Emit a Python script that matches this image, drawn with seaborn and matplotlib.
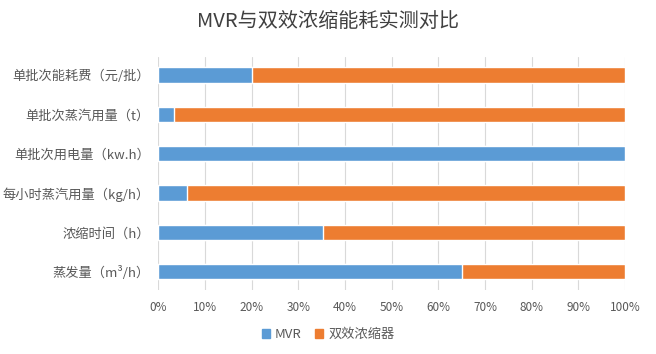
import matplotlib
matplotlib.use("Agg")
import matplotlib.pyplot as plt
import seaborn as sns
import pandas as pd
from matplotlib.patches import Patch
from matplotlib.ticker import FuncFormatter

categories = ["单批次能耗费（元/批）", "单批次蒸汽用量（t）", "单批次用电量（kw.h）",
              "每小时蒸汽用量（kg/h）", "浓缩时间（h）", "蒸发量（m³/h）"]
mvr = [20.0, 3.4, 100.0, 6.2, 35.3, 65.0]
double_eff = [80.0, 96.6, 0.0, 93.8, 64.7, 35.0]
series_names = ["MVR", "双效浓缩器"]
x_ticks = [0, 10, 20, 30, 40, 50, 60, 70, 80, 90, 100]

sns.set_theme(style="white")
plt.rcParams['font.family'] = ['Noto Sans CJK SC', 'DejaVu Sans']

df = pd.DataFrame({"cat": categories, "mvr": mvr,
                   "total": [a + b for a, b in zip(mvr, double_eff)]})

blue = "#5B9BD5"
orange = "#ED7D31"
txt = "#595959"

fig = plt.figure(figsize=(6.56, 3.54), dpi=100)
ax = fig.add_axes([0.241, 0.181, 0.712, 0.658])

sns.barplot(data=df, x="total", y="cat", color=orange, width=0.39, ax=ax,
            saturation=1, orient="h")
sns.barplot(data=df, x="mvr", y="cat", color=blue, width=0.39, ax=ax,
            saturation=1, orient="h")

ax.set_xlim(0, 100)
ax.set_ylim(5.46, -0.46)
ax.set_xticks(x_ticks)
ax.xaxis.set_major_formatter(FuncFormatter(lambda v, p: f"{int(v)}%"))
ax.set_xlabel("")
ax.set_ylabel("")
ax.grid(axis="x", color="#D9D9D9", linewidth=0.8)
ax.set_axisbelow(True)
for s in ax.spines.values():
    s.set_visible(False)
ax.tick_params(axis="both", length=0, labelcolor=txt)
ax.tick_params(axis="x", pad=8, labelsize=8.5)
ax.tick_params(axis="y", pad=6, labelsize=9.5)

fig.suptitle("MVR与双效浓缩能耗实测对比", x=0.5, y=0.97, fontsize=14.5, color="#404040")

handles = [Patch(color=blue, label=series_names[0]), Patch(color=orange, label=series_names[1])]
fig.legend(handles=handles, loc="center", bbox_to_anchor=(0.5, 0.055), ncol=2,
           frameon=False, fontsize=9.5, labelcolor=txt, handlelength=0.6, handleheight=0.6,
           handletextpad=0.4, columnspacing=1.0)

fig.savefig("out.png", dpi=100, facecolor="white")
